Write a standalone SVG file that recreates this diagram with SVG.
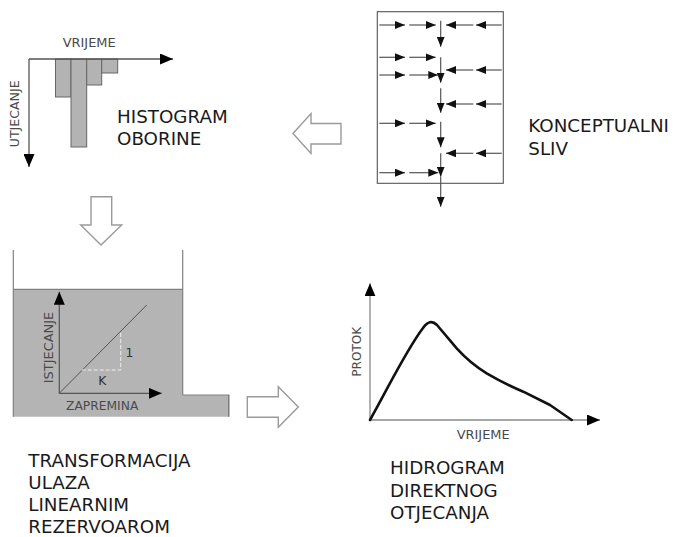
<svg xmlns="http://www.w3.org/2000/svg" width="676" height="537" viewBox="0 0 676 537">
<style>
.big{font-family:"DejaVu Sans","Liberation Sans",sans-serif;font-size:18.3px;fill:#1a1a1a}
.sm{font-family:"DejaVu Sans","Liberation Sans",sans-serif;font-size:12.3px;fill:#4a4a4a}
.ax{stroke:#666;stroke-width:1.3;fill:none}
.fl{stroke:#555;stroke-width:1.2;fill:none}
.hollow{fill:#fff;stroke:#9a9a9a;stroke-width:1.4;stroke-linejoin:miter}
.bar{fill:#b3b3b3;stroke:#666;stroke-width:1}
</style>
<defs>
<marker id="ah" viewBox="0 0 10 8" markerWidth="10" markerHeight="8" refX="10" refY="4" orient="auto" markerUnits="userSpaceOnUse">
<path d="M0,0 L10,4 L0,8 z" fill="#111"/>
</marker>
<marker id="ahL" viewBox="0 0 13 11" markerWidth="13" markerHeight="11" refX="13" refY="5.5" orient="auto" markerUnits="userSpaceOnUse">
<path d="M0,0 L13,5.5 L0,11 z" fill="#000"/>
</marker>
</defs>

<g id="histogram">
<rect class="bar" x="55.5" y="59" width="15.5" height="38"/>
<rect class="bar" x="71" y="59" width="15.7" height="88"/>
<rect class="bar" x="86.7" y="59" width="15" height="26"/>
<rect class="bar" x="101.7" y="59" width="16" height="14"/>
<line class="ax" x1="29" y1="59" x2="173" y2="59" marker-end="url(#ahL)" style="stroke:#555"/>
<line class="ax" x1="29" y1="59" x2="29" y2="167" marker-end="url(#ahL)" style="stroke:#555"/>
<text class="sm" x="62.7" y="46.7" textLength="53" lengthAdjust="spacingAndGlyphs">VRIJEME</text>
<text class="sm" transform="translate(19.3,147.3) rotate(-90)" textLength="67" lengthAdjust="spacingAndGlyphs">UTJECANJE</text>
<text class="big" x="117" y="123">HISTOGRAM</text>
<text class="big" x="117" y="145">OBORINE</text>
</g>

<g id="catchment">
<rect x="377.3" y="11.7" width="126" height="171.6" fill="none" stroke="#555" stroke-width="1.1"/>
<g class="fl">
<line x1="440.7" y1="20.7" x2="440.7" y2="46.7" marker-end="url(#ah)"/>
<line x1="440.7" y1="57.3" x2="440.7" y2="82.7" marker-end="url(#ah)"/>
<line x1="440.7" y1="88.3" x2="440.7" y2="112.7" marker-end="url(#ah)"/>
<line x1="440.7" y1="121.7" x2="440.7" y2="147.3" marker-end="url(#ah)"/>
<line x1="440.7" y1="153.3" x2="440.7" y2="176.7" marker-end="url(#ah)"/>
<line x1="440.7" y1="177" x2="440.7" y2="206.7" marker-end="url(#ah)"/>

<line x1="379.3" y1="25" x2="405" y2="25" marker-end="url(#ah)"/>
<line x1="409.3" y1="25" x2="435.7" y2="25" marker-end="url(#ah)"/>
<line x1="501.7" y1="25" x2="476" y2="25" marker-end="url(#ah)"/>
<line x1="473.3" y1="25" x2="446" y2="25" marker-end="url(#ah)"/>

<line x1="379.3" y1="57.3" x2="405" y2="57.3" marker-end="url(#ah)"/>
<line x1="409.3" y1="57.3" x2="435.7" y2="57.3" marker-end="url(#ah)"/>

<line x1="379.3" y1="75" x2="405" y2="75" marker-end="url(#ah)"/>
<line x1="409.3" y1="75" x2="438.3" y2="75" marker-end="url(#ah)"/>
<line x1="501.7" y1="70" x2="476" y2="70" marker-end="url(#ah)"/>
<line x1="473.3" y1="70" x2="446" y2="70" marker-end="url(#ah)"/>

<line x1="501.7" y1="104" x2="476" y2="104" marker-end="url(#ah)"/>
<line x1="473.3" y1="104" x2="446" y2="104" marker-end="url(#ah)"/>

<line x1="379.3" y1="123.3" x2="405" y2="123.3" marker-end="url(#ah)"/>
<line x1="409.3" y1="123.3" x2="435.7" y2="123.3" marker-end="url(#ah)"/>

<line x1="501.7" y1="153.3" x2="476" y2="153.3" marker-end="url(#ah)"/>
<line x1="473.3" y1="153.3" x2="446" y2="153.3" marker-end="url(#ah)"/>

<line x1="379.3" y1="172.7" x2="405" y2="172.7" marker-end="url(#ah)"/>
<line x1="409.3" y1="172.7" x2="438.3" y2="172.7" marker-end="url(#ah)"/>
</g>
<text class="big" x="528.3" y="131.7">KONCEPTUALNI</text>
<text class="big" x="528.3" y="155">SLIV</text>
</g>

<g id="reservoir">
<path d="M13.3,289.3 H182.7 V395 H229.3 V416.7 H13.3 Z" fill="#b4b4b4"/>
<line x1="13.3" y1="250" x2="13.3" y2="416.7" stroke="#808080" stroke-width="1.2"/>
<line x1="182.7" y1="250" x2="182.7" y2="395" stroke="#808080" stroke-width="1.2"/>
<line x1="182.7" y1="395" x2="229.3" y2="395" stroke="#808080" stroke-width="1.2"/>
<line x1="228.8" y1="395" x2="228.8" y2="416.7" stroke="#707070" stroke-width="1.2"/>
<line x1="13.3" y1="289.3" x2="182.7" y2="289.3" stroke="#808080" stroke-width="1.2"/>
<line x1="59.3" y1="393.3" x2="146.7" y2="305" stroke="#555" stroke-width="1"/>
<path d="M81.7,370 H120.7 V331.7" fill="none" stroke="#eee" stroke-width="1" stroke-dasharray="4,2"/>
<line x1="59.3" y1="393.3" x2="59.3" y2="291.7" stroke="#555" stroke-width="1.2" marker-end="url(#ahL)"/>
<line x1="59.3" y1="393.3" x2="161.7" y2="393.3" stroke="#555" stroke-width="1.2" marker-end="url(#ahL)"/>
<text class="sm" x="125.5" y="357.3" style="fill:#333">1</text>
<text class="sm" x="98.3" y="385" style="fill:#333">K</text>
<text class="sm" transform="translate(52.7,383.3) rotate(-90)" textLength="71.6" lengthAdjust="spacingAndGlyphs">ISTJECANJE</text>
<text class="sm" x="66" y="410" textLength="72.3" lengthAdjust="spacingAndGlyphs">ZAPREMINA</text>
<text class="big" x="28.3" y="467">TRANSFORMACIJA</text>
<text class="big" x="28.3" y="489">ULAZA</text>
<text class="big" x="28.3" y="511">LINEARNIM</text>
<text class="big" x="28.3" y="532.5">REZERVOAROM</text>
</g>

<g id="hydrograph">
<line x1="370" y1="420" x2="370" y2="283.3" stroke="#888" stroke-width="1.3" marker-end="url(#ahL)"/>
<line x1="370" y1="420" x2="600" y2="420" stroke="#888" stroke-width="1.3" marker-end="url(#ahL)"/>
<path d="M370,420 C386,392 405,352 423,328 Q430,318 437,325 L456.7,348.3 Q470,363 486.7,373.3 Q505,384 523.3,391.7 L550,405 L571.7,420" fill="none" stroke="#111" stroke-width="2.6" stroke-linejoin="round" stroke-linecap="round"/>
<text class="sm" transform="translate(360.7,376.7) rotate(-90)" textLength="50" lengthAdjust="spacingAndGlyphs">PROTOK</text>
<text class="sm" x="456.7" y="439.3" textLength="53" lengthAdjust="spacingAndGlyphs">VRIJEME</text>
<text class="big" x="390" y="474.3">HIDROGRAM</text>
<text class="big" x="390" y="496.7">DIREKTNOG</text>
<text class="big" x="390" y="519">OTJECANJA</text>
</g>

<g id="connectors">
<polygon class="hollow" points="293,133.5 311,113.5 311,123.5 341,123.5 341,144 311,144 311,153.5"/>
<polygon class="hollow" points="91,196.7 111.7,196.7 111.7,225 121.7,225 101,245 80.7,225 91,225"/>
<polygon class="hollow" points="247.3,396.7 278.3,396.7 278.3,386.7 298.3,407 278.3,427.3 278.3,417.3 247.3,417.3"/>
</g>
</svg>
